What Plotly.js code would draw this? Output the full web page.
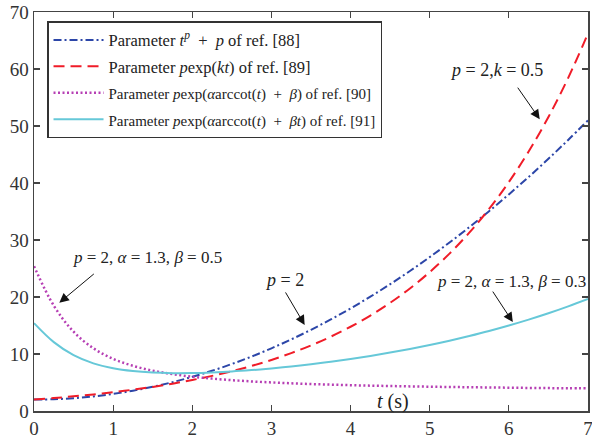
<!DOCTYPE html>
<html>
<head>
<meta charset="utf-8">
<script src="https://cdn.plot.ly/plotly-3.0.1.min.js"></script>
<style>html,body{margin:0;padding:0;background:#fff;}#chart{width:592px;height:444px;}</style>
</head>
<body>
<div id="chart"></div>
<script>
const t = [0,0.25,0.5,0.75,1,1.25,1.5,1.75,2,2.25,2.5,2.75,3,3.25,3.5,3.75,4,4.25,4.5,4.75,5,5.25,5.5,5.75,6,6.25,6.5,6.75,7];
const ref88 = [2,2.06,2.25,2.56,3,3.56,4.25,5.06,6,7.06,8.25,9.56,11,12.56,14.25,16.06,18,20.06,22.25,24.56,27,29.56,32.25,35.06,38,41.06,44.25,47.56,51];
const ref89 = [2,2.27,2.57,2.91,3.30,3.74,4.23,4.80,5.44,6.16,6.98,7.91,8.96,10.16,11.51,13.04,14.78,16.75,18.98,21.50,24.37,27.61,31.29,35.45,40.17,45.52,51.58,58.45,66.23];
const ref90 = [25.41,18.48,13.91,11.01,9.15,7.93,7.08,6.47,6.02,5.68,5.41,5.19,5.01,4.86,4.73,4.63,4.53,4.45,4.38,4.32,4.26,4.21,4.17,4.13,4.09,4.05,4.02,3.99,3.97];
const ref91 = [15.41,12.08,9.80,8.36,7.49,7.00,6.74,6.64,6.66,6.77,6.94,7.18,7.47,7.82,8.21,8.64,9.13,9.66,10.25,10.89,11.59,12.34,13.16,14.04,15.00,16.03,17.14,18.35,19.64];
const legendNames = [
  'Parameter <i>t</i><sup><i>p</i></sup>&nbsp; + &nbsp;<i>p</i> of ref. [88]',
  'Parameter <i>p</i>exp(<i>kt</i>) of ref. [89]',
  '<span style="font-size:15px">Parameter <i>p</i>exp(<i>α</i>arccot(<i>t</i>)&nbsp; + &nbsp;<i>β</i>) of ref. [90]</span>',
  '<span style="font-size:15px">Parameter <i>p</i>exp(<i>α</i>arccot(<i>t</i>)&nbsp; + &nbsp;<i>βt</i>) of ref. [91]</span>'
];
const xTicks = [0,1,2,3,4,5,6,7];
const yTicks = [0,10,20,30,40,50,60,70];

const serif = 'Liberation Serif';
const traces = [
  {x:t, y:ref88, name:legendNames[0], legendgroup:'a', mode:'lines', line:{color:'#2c46a8', width:2, dash:'8px,3px,2px,3px', shape:'spline'}},
  {x:t, y:ref89, name:legendNames[1], legendgroup:'b', mode:'lines', line:{color:'#f01c28', width:2, dash:'11px,6px', shape:'spline'}},
  {x:t, y:ref90, name:legendNames[2], legendgroup:'c', mode:'lines', line:{color:'#b63fb4', width:2.5, dash:'2px,2.5px', shape:'spline'}},
  {x:t, y:ref91, name:legendNames[3], legendgroup:'d', mode:'lines', line:{color:'#66c8d8', width:2, shape:'spline'}}
];

function label(x, y, text, size) {
  return {xref:'x', yref:'y', x:x, y:y, text:text, showarrow:false, font:{family:serif, size:size, color:'#222'}};
}
function arrow(x, y, ax, ay) {
  return {xref:'x', yref:'y', x:x, y:y, ax:ax, ay:ay, axref:'pixel', ayref:'pixel', text:'', showarrow:true,
          arrowhead:2, arrowsize:1.9, arrowwidth:1, arrowcolor:'#111'};
}

const layout = {
  width:592, height:444,
  margin:{l:34, r:4, t:12, b:33},
  paper_bgcolor:'#fff', plot_bgcolor:'#fff',
  font:{family:serif, color:'#333'},
  showlegend:true,
  legend:{x:0.0235, y:0.977, xanchor:'left', yanchor:'top', bgcolor:'#fff', bordercolor:'#333', borderwidth:1.5,
          font:{family:serif, size:16.5, color:'#222'}, tracegroupgap:2, itemwidth:50},
  xaxis:{range:[0,7], tickvals:xTicks, ticktext:xTicks.map(String), ticks:'inside', ticklen:6, tickwidth:1.2, tickcolor:'#444',
         showline:true, linecolor:'#444', linewidth:1.5, mirror:'ticks', showgrid:false, zeroline:false, ticklabeloverflow:'allow',
         tickfont:{family:serif, size:19, color:'#333'}},
  yaxis:{range:[0,70], tickvals:yTicks, ticktext:yTicks.map(String), ticks:'inside', ticklen:6, tickwidth:1.2, tickcolor:'#444',
         showline:true, linecolor:'#444', linewidth:1.5, mirror:'ticks', showgrid:false, zeroline:false, ticklabeloverflow:'allow',
         tickfont:{family:serif, size:19, color:'#333'}},
  annotations:[
    {xref:'x', yref:'y', x:4.54, y:1.6, text:'<i>t</i> (s)', showarrow:false, font:{family:serif, size:20, color:'#222'}},
    label(5.85, 59.9, '<i>p</i> = 2,<i>k</i> = 0.5', 18),
    arrow(6.39, 51.2, -23, -33),
    label(3.17, 23, '<i>p</i> = 2', 18),
    arrow(3.42, 15.1, -20, -34),
    label(1.43, 26.9, '<i>p</i> = 2, <i>α</i> = 1.3, <i>β</i> = 0.5', 17),
    arrow(0.32, 19.0, 36, -30),
    label(6.03, 22.7, '<i>p</i> = 2, <i>α</i> = 1.3, <i>β</i> = 0.3', 17),
    arrow(6.05, 15.6, -21, -32)
  ]
};
Plotly.newPlot('chart', traces, layout, {staticPlot:true, displayModeBar:false});
</script>
</body>
</html>
